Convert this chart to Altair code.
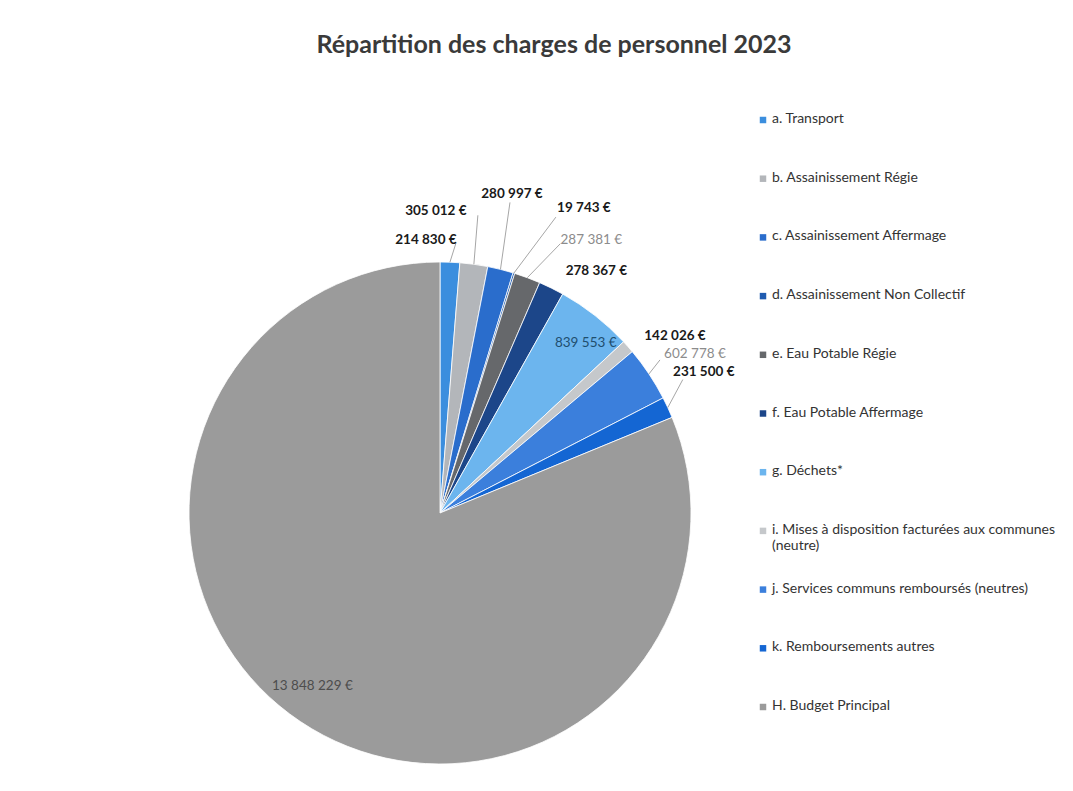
import altair as alt
import pandas as pd

# ---------------- data ----------------
title = "Répartition des charges de personnel 2023"
categories = [
    "a. Transport",
    "b. Assainissement Régie",
    "c. Assainissement Affermage",
    "d. Assainissement Non Collectif",
    "e. Eau Potable Régie",
    "f. Eau Potable Affermage",
    "g. Déchets*",
    "i. Mises à disposition facturées aux communes (neutre)",
    "j. Services communs remboursés (neutres)",
    "k. Remboursements autres",
    "H. Budget Principal",
]
values = [214830, 305012, 280997, 19743, 287381, 278367, 839553, 142026, 602778, 231500, 13848229]

# ---------------- styles ----------------
colors = ["#3b8ede", "#b3b6ba", "#2a6dcc", "#1f5bb0", "#66686b", "#1c4689",
          "#6cb5ee", "#c5c8cb", "#3b7fdc", "#1466d3", "#9b9b9b"]
label_style = ["bold", "bold", "bold", "bold", "normal", "bold", "normal", "bold", "normal", "bold", "normal"]
label_color = ["#1a1a1a", "#1a1a1a", "#1a1a1a", "#1a1a1a", "#8c8c8c", "#1a1a1a",
               "#1f4e6e", "#1a1a1a", "#8c8c8c", "#1a1a1a", "#4d4d4d"]
# annotation placement (label inside / outside, offsets from the slice anchor point)
label_kind = ["out", "out", "out", "out", "out", "out", "in", "out", "out", "out", "in"]
label_dx = [-24, -38, 11.5, 70, 64, 45, 13, 47, 46, 36, -8]
label_dy = [-22, -53, -75, -65, -38, -17, -1, -11, -20, -36, -6]
lead_dx = [6, 4, 9.5, 42, 33, None, None, None, 11, 15, None]
lead_dy = [-19, -49, -67, -56, -34, None, None, None, -14, -28, None]

CX, CY, R, RIN = 432, 505, 251, 215
LEG_X, LEG_Y0, LEG_STEP = 755, 112, 58.7
FONT = "Lato"


def fmt(v):
    return f"{v:,}".replace(",", " ") + " €"


df = pd.DataFrame({
    "idx": list(range(len(categories))),
    "cat": categories,
    "value": values,
    "label": [fmt(v) for v in values],
    "legend_text": [c.replace(" (neutre)", "\n(neutre)") for c in categories],
    "style": label_style,
    "tcolor": label_color,
    "kind": label_kind,
    "dx": label_dx,
    "dy": label_dy,
    "ldx": lead_dx,
    "ldy": lead_dy,
})

color_scale = alt.Scale(domain=categories, range=colors)

pie = alt.Chart(df).mark_arc(x=CX, y=CY, radius=R, stroke="white", strokeWidth=0.8).encode(
    theta=alt.Theta("value:Q", stack=True),
    order=alt.Order("idx:Q", sort="ascending"),
    color=alt.Color("cat:N", scale=color_scale, legend=None),
)

calc = (
    alt.Chart(df)
    .transform_window(cum="sum(value)", sort=[alt.SortField("idx", order="ascending")], frame=[None, 0])
    .transform_joinaggregate(total="sum(value)")
    .transform_calculate(mid="2*PI*(datum.cum - datum.value/2)/datum.total")
    .transform_calculate(r=f"datum.kind == 'in' ? {RIN} : {R}")
    .transform_calculate(bx=f"{CX} + datum.r*sin(datum.mid)")
    .transform_calculate(by=f"{CY} - datum.r*cos(datum.mid)")
    .transform_calculate(tx="datum.bx + datum.dx")
    .transform_calculate(ty="datum.by + datum.dy")
)

leaders = (
    calc.transform_filter("isValid(datum.ldx)")
    .transform_calculate(lx="datum.bx + datum.ldx")
    .transform_calculate(ly="datum.by + datum.ldy")
    .mark_rule(color="#a6a6a6", strokeWidth=1)
    .encode(
        x=alt.X("bx:Q", scale=None, axis=None),
        y=alt.Y("by:Q", scale=None, axis=None),
        x2="lx:Q",
        y2="ly:Q",
    )
)

labels_bold = (
    calc.transform_filter("datum.style == 'bold'")
    .mark_text(font=FONT, fontSize=13.5, fontWeight="bold", align="center", baseline="middle")
    .encode(
        x=alt.X("tx:Q", scale=None, axis=None),
        y=alt.Y("ty:Q", scale=None, axis=None),
        text="label:N",
        color=alt.Color("tcolor:N", scale=None),
    )
)
labels_norm = (
    calc.transform_filter("datum.style != 'bold'")
    .mark_text(font=FONT, fontSize=13.5, align="center", baseline="middle")
    .encode(
        x=alt.X("tx:Q", scale=None, axis=None),
        y=alt.Y("ty:Q", scale=None, axis=None),
        text="label:N",
        color=alt.Color("tcolor:N", scale=None),
    )
)

leg = alt.Chart(df).transform_calculate(ly=f"{LEG_Y0} + datum.idx*{LEG_STEP}").transform_calculate(
    lyt="datum.ly - 8")
leg_sym = leg.mark_square(size=42, x=LEG_X, opacity=1).encode(
    y=alt.Y("ly:Q", scale=None, axis=None),
    color=alt.Color("cat:N", scale=color_scale, legend=None),
)
leg_txt = leg.mark_text(font=FONT, fontSize=14, align="left", baseline="top", x=LEG_X + 9,
                        lineBreak="\n", lineHeight=16, color="#333333").encode(
    y=alt.Y("lyt:Q", scale=None, axis=None),
    text="legend_text:N",
)

title_mark = alt.Chart(pd.DataFrame({"t": [title]})).mark_text(
    font=FONT, fontSize=25, fontWeight="bold", color="#3a3a3a", align="center", baseline="middle",
    x=546, y=37,
).encode(text="t:N")

chart = (
    alt.layer(pie, leaders, labels_bold, labels_norm, leg_sym, leg_txt, title_mark)
    .resolve_scale(color="independent")
    .properties(width=1050, height=770, padding=0, autosize=alt.AutoSizeParams(type="none"),
                background="white")
    .configure_view(stroke=None)
)

chart.save("out.html", embed_options={"renderer": "svg", "actions": False})
